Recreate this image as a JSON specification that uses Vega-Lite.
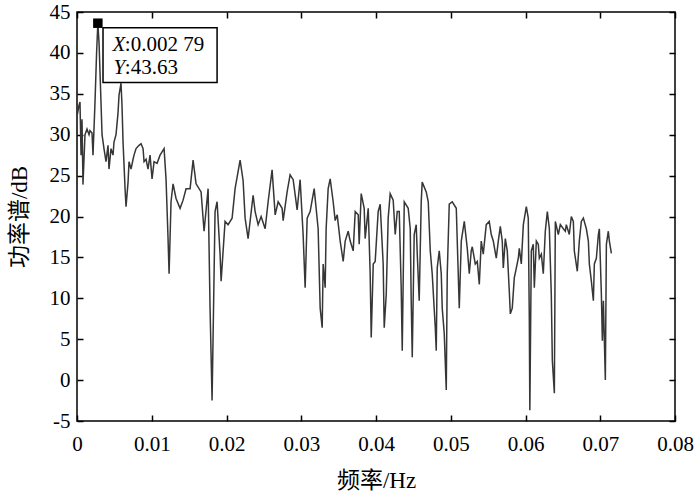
{
"$schema": "https://vega.github.io/schema/vega-lite/v6.json",
"width": 598, "height": 409,
"autosize": "none",
"padding": {"left": 77, "top": 12, "right": 25, "bottom": 76},
"background": "white",
"config": {
 "view": {"stroke": "black", "strokeWidth": 1.5},
 "axis": {"domain": false, "grid": false, "tickColor": "black", "tickWidth": 1.5,
  "labelFont": "Liberation Serif", "labelFontSize": 21, "labelColor": "black",
  "titleFont": "Liberation Serif, Noto Sans CJK SC", "titleFontSize": 23, "titleFontWeight": "normal", "titleColor": "black"}
},
"datasets": {
 "psd": [
{"f":0.00005,"p":32.5},{"f":0.00027,"p":33.6},{"f":0.00040,"p":34.0},{"f":0.00054,"p":27.5},{"f":0.00067,"p":31.9},{"f":0.00080,"p":23.9},{"f":0.00107,"p":30.0},{"f":0.00134,"p":30.7},{"f":0.00161,"p":30.0},{"f":0.00174,"p":30.5},{"f":0.00201,"p":30.2},{"f":0.00214,"p":27.5},{"f":0.00241,"p":34.0},{"f":0.00262,"p":40.0},{"f":0.00279,"p":43.63},{"f":0.00295,"p":41.2},{"f":0.00321,"p":34.0},{"f":0.00335,"p":30.0},{"f":0.00361,"p":28.3},{"f":0.00388,"p":26.7},{"f":0.00415,"p":28.7},{"f":0.00428,"p":25.8},{"f":0.00455,"p":28.3},{"f":0.00482,"p":27.5},{"f":0.00495,"p":29.1},{"f":0.00522,"p":30.0},{"f":0.00549,"p":32.7},{"f":0.00562,"p":34.8},{"f":0.00589,"p":36.3},{"f":0.00602,"p":33.6},{"f":0.00616,"p":29.1},{"f":0.00643,"p":23.4},{"f":0.00656,"p":21.2},{"f":0.00683,"p":24.2},{"f":0.00696,"p":26.7},{"f":0.00723,"p":25.8},{"f":0.00750,"p":27.0},{"f":0.00763,"p":27.5},{"f":0.00790,"p":28.3},{"f":0.00830,"p":28.7},{"f":0.00857,"p":28.9},{"f":0.00884,"p":28.3},{"f":0.00897,"p":26.7},{"f":0.00924,"p":27.0},{"f":0.00950,"p":25.8},{"f":0.00977,"p":27.5},{"f":0.01004,"p":24.6},{"f":0.01031,"p":26.7},{"f":0.01071,"p":26.5},{"f":0.01111,"p":27.5},{"f":0.01165,"p":28.3},{"f":0.01191,"p":24.6},{"f":0.01218,"p":17.3},{"f":0.01232,"p":13.0},{"f":0.01258,"p":21.8},{"f":0.01285,"p":24.0},{"f":0.01325,"p":22.2},{"f":0.01379,"p":21.0},{"f":0.01419,"p":22.0},{"f":0.01459,"p":23.4},{"f":0.01513,"p":23.4},{"f":0.01553,"p":26.9},{"f":0.01593,"p":24.0},{"f":0.01660,"p":23.0},{"f":0.01700,"p":18.2},{"f":0.01754,"p":23.4},{"f":0.01780,"p":8.8},{"f":0.01807,"p":-2.5},{"f":0.01847,"p":20.6},{"f":0.01874,"p":21.8},{"f":0.01914,"p":15.4},{"f":0.01928,"p":12.1},{"f":0.01981,"p":19.4},{"f":0.02021,"p":19.0},{"f":0.02075,"p":19.8},{"f":0.02115,"p":23.4},{"f":0.02182,"p":26.9},{"f":0.02222,"p":24.4},{"f":0.02249,"p":19.8},{"f":0.02289,"p":17.3},{"f":0.02356,"p":22.6},{"f":0.02383,"p":20.6},{"f":0.02423,"p":19.0},{"f":0.02463,"p":20.0},{"f":0.02517,"p":18.5},{"f":0.02557,"p":21.8},{"f":0.02610,"p":25.7},{"f":0.02651,"p":20.2},{"f":0.02691,"p":21.8},{"f":0.02744,"p":21.0},{"f":0.02758,"p":19.5},{"f":0.02811,"p":23.0},{"f":0.02851,"p":25.1},{"f":0.02892,"p":24.5},{"f":0.02945,"p":20.8},{"f":0.02985,"p":24.5},{"f":0.03025,"p":17.8},{"f":0.03052,"p":11.3},{"f":0.03079,"p":19.8},{"f":0.03119,"p":20.6},{"f":0.03173,"p":23.4},{"f":0.03226,"p":18.5},{"f":0.03253,"p":8.8},{"f":0.03280,"p":6.4},{"f":0.03293,"p":14.2},{"f":0.03320,"p":11.3},{"f":0.03333,"p":18.5},{"f":0.03360,"p":23.4},{"f":0.03387,"p":24.6},{"f":0.03427,"p":21.8},{"f":0.03454,"p":19.5},{"f":0.03481,"p":20.2},{"f":0.03521,"p":17.0},{"f":0.03561,"p":14.5},{"f":0.03588,"p":17.0},{"f":0.03628,"p":18.2},{"f":0.03655,"p":17.0},{"f":0.03695,"p":15.8},{"f":0.03722,"p":20.6},{"f":0.03762,"p":20.2},{"f":0.03775,"p":16.6},{"f":0.03802,"p":22.8},{"f":0.03842,"p":21.0},{"f":0.03855,"p":17.3},{"f":0.03896,"p":21.0},{"f":0.03922,"p":13.0},{"f":0.03936,"p":5.2},{"f":0.03963,"p":14.2},{"f":0.03989,"p":14.5},{"f":0.04029,"p":20.6},{"f":0.04056,"p":21.5},{"f":0.04096,"p":14.2},{"f":0.04110,"p":6.4},{"f":0.04137,"p":10.5},{"f":0.04163,"p":19.8},{"f":0.04190,"p":22.8},{"f":0.04230,"p":22.0},{"f":0.04257,"p":17.8},{"f":0.04284,"p":20.6},{"f":0.04311,"p":20.6},{"f":0.04337,"p":11.3},{"f":0.04351,"p":3.6},{"f":0.04378,"p":21.8},{"f":0.04431,"p":21.0},{"f":0.04458,"p":18.5},{"f":0.04471,"p":9.7},{"f":0.04485,"p":2.8},{"f":0.04511,"p":17.8},{"f":0.04538,"p":19.0},{"f":0.04552,"p":15.4},{"f":0.04578,"p":9.7},{"f":0.04605,"p":21.8},{"f":0.04618,"p":24.2},{"f":0.04672,"p":23.0},{"f":0.04699,"p":21.8},{"f":0.04726,"p":15.8},{"f":0.04752,"p":13.0},{"f":0.04793,"p":6.4},{"f":0.04806,"p":3.6},{"f":0.04819,"p":13.7},{"f":0.04846,"p":15.8},{"f":0.04873,"p":13.0},{"f":0.04886,"p":8.8},{"f":0.04913,"p":5.7},{"f":0.04940,"p":-1.2},{"f":0.04953,"p":13.0},{"f":0.04980,"p":21.5},{"f":0.05020,"p":21.8},{"f":0.05074,"p":21.0},{"f":0.05087,"p":17.0},{"f":0.05114,"p":8.8},{"f":0.05141,"p":17.0},{"f":0.05181,"p":19.4},{"f":0.05221,"p":16.1},{"f":0.05248,"p":13.0},{"f":0.05274,"p":15.8},{"f":0.05288,"p":16.3},{"f":0.05328,"p":14.2},{"f":0.05355,"p":14.5},{"f":0.05382,"p":11.7},{"f":0.05408,"p":17.0},{"f":0.05435,"p":15.4},{"f":0.05475,"p":19.0},{"f":0.05515,"p":19.4},{"f":0.05542,"p":17.8},{"f":0.05569,"p":17.0},{"f":0.05609,"p":14.9},{"f":0.05636,"p":17.0},{"f":0.05663,"p":18.8},{"f":0.05689,"p":17.0},{"f":0.05703,"p":13.7},{"f":0.05730,"p":17.3},{"f":0.05756,"p":15.8},{"f":0.05783,"p":10.9},{"f":0.05797,"p":8.1},{"f":0.05823,"p":8.8},{"f":0.05850,"p":12.5},{"f":0.05877,"p":13.7},{"f":0.05904,"p":14.9},{"f":0.05917,"p":16.1},{"f":0.05944,"p":14.2},{"f":0.05971,"p":19.0},{"f":0.06011,"p":21.2},{"f":0.06037,"p":19.8},{"f":0.06051,"p":7.6},{"f":0.06058,"p":-3.7},{"f":0.06078,"p":15.8},{"f":0.06104,"p":16.6},{"f":0.06118,"p":11.3},{"f":0.06145,"p":17.0},{"f":0.06171,"p":16.6},{"f":0.06185,"p":14.9},{"f":0.06212,"p":15.4},{"f":0.06238,"p":13.0},{"f":0.06265,"p":18.2},{"f":0.06292,"p":20.6},{"f":0.06319,"p":18.5},{"f":0.06345,"p":10.5},{"f":0.06359,"p":2.4},{"f":0.06386,"p":-1.6},{"f":0.06399,"p":19.4},{"f":0.06439,"p":17.8},{"f":0.06466,"p":19.0},{"f":0.06506,"p":18.5},{"f":0.06533,"p":18.2},{"f":0.06546,"p":19.0},{"f":0.06586,"p":17.8},{"f":0.06613,"p":20.0},{"f":0.06640,"p":19.4},{"f":0.06653,"p":15.8},{"f":0.06693,"p":13.3},{"f":0.06720,"p":17.0},{"f":0.06747,"p":19.4},{"f":0.06774,"p":19.8},{"f":0.06814,"p":18.5},{"f":0.06841,"p":17.0},{"f":0.06854,"p":14.2},{"f":0.06881,"p":12.1},{"f":0.06908,"p":9.7},{"f":0.06921,"p":14.2},{"f":0.06948,"p":14.9},{"f":0.06975,"p":17.8},{"f":0.06988,"p":18.5},{"f":0.07015,"p":10.5},{"f":0.07028,"p":4.8},{"f":0.07042,"p":9.7},{"f":0.07068,"p":0.0},{"f":0.07082,"p":16.6},{"f":0.07108,"p":18.2},{"f":0.07122,"p":17.0},{"f":0.07149,"p":15.5}
 ],
 "tip": [{"f": 0.00279, "p": 43.63}],
 "box": [{"f1": 0.00348, "f2": 0.01874, "p1": 43.06, "p2": 36.38}],
 "ital": [{"t": "X", "f": 0.00475, "p": 40.2}, {"t": "Y", "f": 0.00488, "p": 37.4}],
 "norm": [{"t": ":0.002 79", "f": 0.00640, "p": 40.2}, {"t": ":43.63", "f": 0.00640, "p": 37.4}]
},
"layer": [
 {
  "data": {"name": "psd"},
  "mark": {"type": "line", "color": "#363636", "strokeWidth": 1.5, "clip": true},
  "encoding": {
   "x": {"field": "f", "type": "quantitative", "scale": {"domain": [0, 0.08], "nice": false},
    "axis": {"orient": "bottom", "ticks": false, "values": [0, 0.01, 0.02, 0.03, 0.04, 0.05, 0.06, 0.07, 0.08], "labelExpr": "datum.value == 0 ? '0' : format(datum.value, '.2f')", "title": "频率/Hz", "labelPadding": 12, "titlePadding": 15, "labelFlush": false}},
   "y": {"field": "p", "type": "quantitative", "scale": {"domain": [-5, 45], "nice": false},
    "axis": {"orient": "left", "ticks": false, "values": [-5, 0, 5, 10, 15, 20, 25, 30, 35, 40, 45], "labelExpr": "datum.value + ''", "title": "功率谱/dB", "labelPadding": 7, "titlePadding": 18, "labelFlush": false}}
  }
 },
 {
  "data": {"name": "box"},
  "mark": {"type": "rect", "fill": "white", "stroke": "black", "strokeWidth": 1.5},
  "encoding": {
   "x": {"field": "f1", "type": "quantitative", "scale": {"domain": [0, 0.08], "nice": false}, "axis": {"orient": "top", "offset": -6, "ticks": true, "tickSize": 6, "values": [0, 0.01, 0.02, 0.03, 0.04, 0.05, 0.06, 0.07, 0.08], "labels": false, "title": null}},
   "x2": {"field": "f2"},
   "y": {"field": "p1", "type": "quantitative", "scale": {"domain": [-5, 45], "nice": false}, "axis": {"orient": "right", "offset": -6, "ticks": true, "tickSize": 6, "values": [-5, 0, 5, 10, 15, 20, 25, 30, 35, 40, 45], "labels": false, "title": null}},
   "y2": {"field": "p2"}
  }
 },
 {
  "data": {"name": "ital"},
  "mark": {"type": "text", "align": "left", "baseline": "alphabetic", "font": "Liberation Serif", "fontSize": 21, "fontStyle": "italic", "color": "black"},
  "encoding": {
   "x": {"field": "f", "type": "quantitative", "scale": {"domain": [0, 0.08], "nice": false}, "axis": {"orient": "bottom", "offset": -6, "ticks": true, "tickSize": 6, "values": [0, 0.01, 0.02, 0.03, 0.04, 0.05, 0.06, 0.07, 0.08], "labels": false, "title": null}},
   "y": {"field": "p", "type": "quantitative", "scale": {"domain": [-5, 45], "nice": false}, "axis": {"orient": "left", "offset": -6, "ticks": true, "tickSize": 6, "values": [-5, 0, 5, 10, 15, 20, 25, 30, 35, 40, 45], "labels": false, "title": null}},
   "text": {"field": "t"}
  }
 },
 {
  "data": {"name": "norm"},
  "mark": {"type": "text", "align": "left", "baseline": "alphabetic", "font": "Liberation Serif", "fontSize": 21, "color": "black"},
  "encoding": {
   "x": {"field": "f", "type": "quantitative", "scale": {"domain": [0, 0.08], "nice": false}, "axis": null},
   "y": {"field": "p", "type": "quantitative", "scale": {"domain": [-5, 45], "nice": false}, "axis": null},
   "text": {"field": "t"}
  }
 },
 {
  "data": {"name": "tip"},
  "mark": {"type": "square", "size": 90, "filled": true, "color": "black", "opacity": 1},
  "encoding": {
   "x": {"field": "f", "type": "quantitative", "scale": {"domain": [0, 0.08], "nice": false}, "axis": null},
   "y": {"field": "p", "type": "quantitative", "scale": {"domain": [-5, 45], "nice": false}, "axis": null}
  }
 }
],
"resolve": {"axis": {"x": "independent", "y": "independent"}}
}
